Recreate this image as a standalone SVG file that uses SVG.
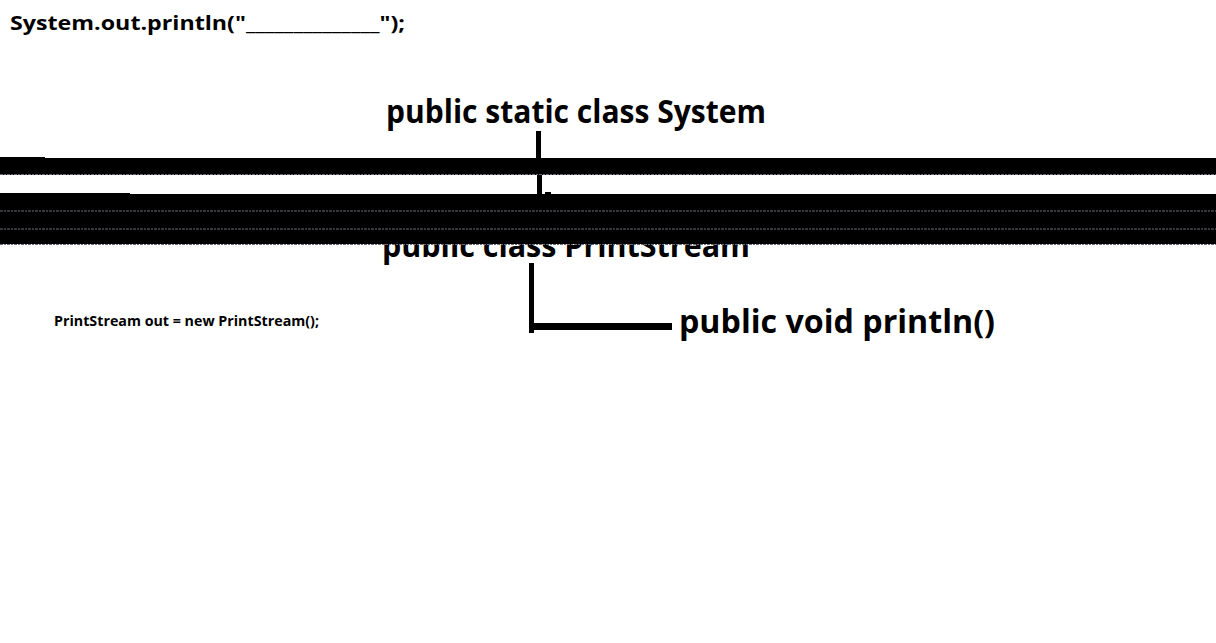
<svg xmlns="http://www.w3.org/2000/svg" width="1216" height="643" viewBox="0 0 1216 643">
<style>
.t{font-family:"Open Sans","Lato","Liberation Sans",sans-serif;font-weight:bold;fill:#000}
.big{font-size:32px}
.conn{stroke:#000;fill:none}
.noise{stroke:#6a6a78;stroke-width:1;stroke-dasharray:3 1 2 1}
</style>
<rect width="1216" height="643" fill="#fff"/>
<g id="code-line">
<text class="t" x="10" y="30" font-size="19" textLength="395" lengthAdjust="spacingAndGlyphs">System.out.println("______________");</text>
</g>
<g id="node-system">
<text class="t big" x="386" y="123" textLength="380" lengthAdjust="spacingAndGlyphs">public static class System</text>
</g>
<g id="node-printstream">
<text class="t big" x="382" y="257" textLength="368" lengthAdjust="spacingAndGlyphs">public class PrintStream</text>
</g>
<g id="node-println">
<text class="t big" x="679" y="333" textLength="316" lengthAdjust="spacingAndGlyphs">public void println()</text>
</g>
<g id="note-out">
<text class="t" x="54" y="326" font-size="13.5" textLength="265" lengthAdjust="spacingAndGlyphs">PrintStream out = new PrintStream();</text>
</g>
<g id="connectors">
<rect x="536" y="131" width="5" height="28" fill="#000"/>
<rect x="537" y="175" width="5" height="20" fill="#000"/>
<rect x="545" y="192" width="6" height="3" fill="#000"/>
<rect x="529" y="263" width="5" height="70" fill="#000"/>
<rect x="529" y="323" width="143" height="7" fill="#000"/>
</g>
<g id="bars">
<rect x="0" y="158" width="1216" height="17" fill="#000"/>
<rect x="0" y="157" width="45" height="2" fill="#000"/>
<rect x="0" y="194" width="1216" height="50" fill="#000"/>
<rect x="0" y="193" width="130" height="2" fill="#000"/>
<line class="noise" x1="0" y1="174.5" x2="1216" y2="174.5"/>
<line class="noise" x1="0" y1="211" x2="1216" y2="211"/>
<line class="noise" x1="0" y1="229" x2="1216" y2="229"/>
<line class="noise" x1="0" y1="244.5" x2="1216" y2="244.5" stroke-width="1.5"/>
</g>
</svg>
